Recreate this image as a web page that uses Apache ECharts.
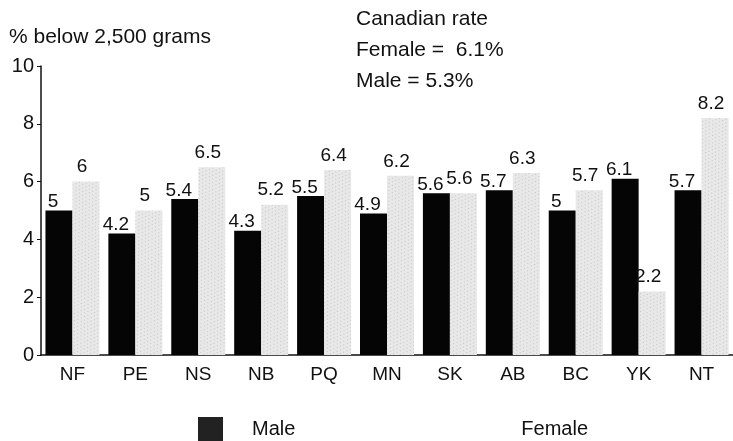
<!DOCTYPE html>
<html>
<head>
<meta charset="utf-8">
<script src="https://cdn.jsdelivr.net/npm/echarts@6/dist/echarts.min.js"></script>
<style>html,body{margin:0;padding:0;background:#fff}#c{width:733px;height:441px}</style>
</head>
<body>
<div id="c"></div>
<script>
const categories = ['NF','PE','NS','NB','PQ','MN','SK','AB','BC','YK','NT'];
const maleValues = [5, 4.2, 5.4, 4.3, 5.5, 4.9, 5.6, 5.7, 5, 6.1, 5.7];
const femaleValues = [6, 5, 6.5, 5.2, 6.4, 6.2, 5.6, 6.3, 5.7, 2.2, 8.2];
const yTicks = [0, 2, 4, 6, 8, 10];
const titleText = '% below 2,500 grams';
const noteLines = ['Canadian rate', 'Female =  6.1%', 'Male = 5.3%'];

const font = 'Liberation Sans, Arial, sans-serif';
const chart = echarts.init(document.getElementById('c'));
const baseLabel = {show: true, position: 'top', distance: 3, color: '#111', fontSize: 19, fontFamily: font};
chart.setOption({
  animation: false,
  backgroundColor: '#fff',
  textStyle: {fontFamily: font},
  title: {text: titleText, left: 9, top: 27, padding: 0, textStyle: {fontSize: 21, fontWeight: 'normal', color: '#111', fontFamily: font}},
  graphic: noteLines.map((t, i) => ({type: 'text', left: 356, top: 9 + i * 31, style: {text: t, fontSize: 21, fill: '#111', fontFamily: font}})),
  legend: {
    top: 417, left: 198, padding: 0, itemWidth: 25, itemHeight: 24, itemGap: 172, icon: 'rect',
    textStyle: {fontSize: 20, color: '#111', fontFamily: font, padding: [0, 0, 0, 24]},
    data: [
      {name: 'Male', itemStyle: {color: '#222'}},
      {name: 'Female', itemStyle: {color: '#fff', decal: 'none'}}
    ]
  },
  grid: {left: 41, right: -3, top: 66, bottom: 86},
  xAxis: {
    type: 'category', data: categories,
    axisLine: {lineStyle: {color: '#111', width: 1.5}},
    axisTick: {show: false},
    axisLabel: {fontSize: 19, color: '#111', margin: 10, fontFamily: font}
  },
  yAxis: {
    type: 'value', min: yTicks[0], max: yTicks[yTicks.length - 1], interval: 2,
    splitLine: {show: false},
    axisLine: {show: true, lineStyle: {color: '#111', width: 1.5}},
    axisTick: {show: true, inside: false, length: 4, lineStyle: {color: '#111'}},
    axisLabel: {fontSize: 20, color: '#111', margin: 7, fontFamily: font}
  },
  series: [
    {name: 'Male', type: 'bar', data: maleValues, barWidth: 27, barGap: '0%',
     itemStyle: {color: '#050505'}, label: Object.assign({}, baseLabel, {offset: [-6, 4]})},
    {name: 'Female', type: 'bar', data: femaleValues, barWidth: 27,
     itemStyle: {color: '#e8e8e8', decal: {symbol: 'rect', symbolSize: 0.6, color: 'rgba(0,0,0,0.5)', dashArrayX: [[1, 3], [0, 2, 1, 1]], dashArrayY: [1, 2], rotation: 0.6}},
     label: Object.assign({}, baseLabel, {offset: [-4, -2]})}
  ]
});
</script>
</body>
</html>
